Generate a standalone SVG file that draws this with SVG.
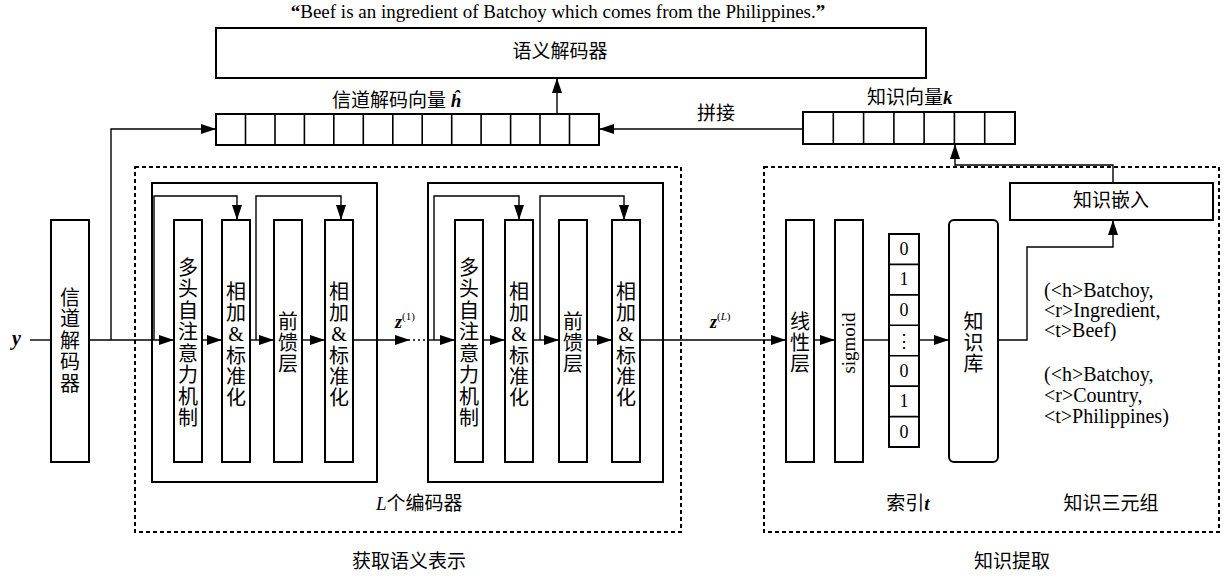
<svg xmlns="http://www.w3.org/2000/svg" width="1224" height="579" viewBox="0 0 1224 579">
<style>
.box{fill:#fff;stroke:#000;stroke-width:2}
.ln{fill:none;stroke:#000;stroke-width:1.4}
.dash{fill:none;stroke:#000;stroke-width:2;stroke-dasharray:4 3}
.cell{fill:none;stroke:#000;stroke-width:1.6}
.t{font-family:"Liberation Serif","Noto Sans CJK SC",serif;font-size:19px;fill:#000}
.v{font-family:"Liberation Serif","Noto Sans CJK SC",serif;font-size:20px;fill:#000;text-anchor:middle}
.s{font-family:"Liberation Serif","DejaVu Serif",serif;fill:#000}
.bi{font-weight:bold;font-style:italic}
</style>
<defs>
<marker id="ah" viewBox="0 0 15 10" refX="15" refY="5" markerWidth="15" markerHeight="10" markerUnits="userSpaceOnUse" orient="auto"><path d="M0,0 L15,5 L0,10 z" fill="#000"/></marker>
</defs>
<rect width="1224" height="579" fill="#fff"/>

<text class="s" x="558" y="18" font-size="19" text-anchor="middle"><tspan font-weight="bold">“</tspan>Beef is an ingredient of Batchoy which comes from the Philippines.<tspan font-weight="bold">”</tspan></text>

<g id="semantic-decoder">
<rect class="box" x="216" y="28" width="710" height="50"/>
<text class="t" x="560" y="58" text-anchor="middle">语义解码器</text>
</g>

<g id="channel-vector">
<rect class="box" x="216" y="114" width="383" height="31"/>
<path class="cell" d="M245.5,114V145M275,114V145M304.4,114V145M333.8,114V145M363.3,114V145M392.8,114V145M422.2,114V145M451.7,114V145M481.1,114V145M510.6,114V145M540,114V145M569.5,114V145"/>
<text class="t" x="332" y="107">信道解码向量 <tspan class="bi" font-family="Liberation Serif">ĥ</tspan></text>
</g>

<g id="knowledge-vector">
<rect class="box" x="803" y="112" width="212" height="32"/>
<path class="cell" d="M833.3,112V144M863.6,112V144M893.9,112V144M924.1,112V144M954.4,112V144M984.7,112V144"/>
<text class="t" x="867" y="104">知识向量<tspan class="bi" font-family="Liberation Serif">k</tspan></text>
</g>
<text class="t" x="697" y="120">拼接</text>

<g id="regions">
<rect class="dash" x="135" y="167" width="546" height="365"/>
<rect class="dash" x="764" y="167" width="455" height="365"/>
</g>

<g id="channel-decoder">
<rect class="box" x="51" y="220" width="38" height="242"/>
<text class="v" x="70"><tspan x="70" y="304.5">信</tspan><tspan x="70" y="326">道</tspan><tspan x="70" y="347.5">解</tspan><tspan x="70" y="369">码</tspan><tspan x="70" y="390.5">器</tspan></text>
</g>
<text class="s bi" x="12" y="345" font-size="20">y</text>

<g id="encoder-1">
<rect class="box" x="152" y="183" width="225" height="299"/>
<rect class="box" x="174" y="220" width="28" height="242"/>
<rect class="box" x="222" y="220" width="28" height="242"/>
<rect class="box" x="274" y="220" width="28" height="242"/>
<rect class="box" x="325" y="220" width="28" height="242"/>
<text class="v"><tspan x="188" y="274.5">多</tspan><tspan x="188" y="296">头</tspan><tspan x="188" y="317.5">自</tspan><tspan x="188" y="339">注</tspan><tspan x="188" y="360.5">意</tspan><tspan x="188" y="382">力</tspan><tspan x="188" y="403.5">机</tspan><tspan x="188" y="425">制</tspan></text>
<text class="v"><tspan x="236" y="298.5">相</tspan><tspan x="236" y="320">加</tspan><tspan x="236" y="341">&amp;</tspan><tspan x="236" y="362.5">标</tspan><tspan x="236" y="384">准</tspan><tspan x="236" y="405">化</tspan></text>
<text class="v"><tspan x="288" y="328.5">前</tspan><tspan x="288" y="349.5">馈</tspan><tspan x="288" y="370.5">层</tspan></text>
<text class="v"><tspan x="339" y="298.5">相</tspan><tspan x="339" y="320">加</tspan><tspan x="339" y="341">&amp;</tspan><tspan x="339" y="362.5">标</tspan><tspan x="339" y="384">准</tspan><tspan x="339" y="405">化</tspan></text>
</g>

<g id="encoder-L">
<rect class="box" x="428" y="183" width="235" height="299"/>
<rect class="box" x="455" y="220" width="28" height="242"/>
<rect class="box" x="505" y="220" width="28" height="242"/>
<rect class="box" x="559" y="220" width="28" height="242"/>
<rect class="box" x="612" y="220" width="28" height="242"/>
<text class="v"><tspan x="469" y="274.5">多</tspan><tspan x="469" y="296">头</tspan><tspan x="469" y="317.5">自</tspan><tspan x="469" y="339">注</tspan><tspan x="469" y="360.5">意</tspan><tspan x="469" y="382">力</tspan><tspan x="469" y="403.5">机</tspan><tspan x="469" y="425">制</tspan></text>
<text class="v"><tspan x="519" y="298.5">相</tspan><tspan x="519" y="320">加</tspan><tspan x="519" y="341">&amp;</tspan><tspan x="519" y="362.5">标</tspan><tspan x="519" y="384">准</tspan><tspan x="519" y="405">化</tspan></text>
<text class="v"><tspan x="573" y="328.5">前</tspan><tspan x="573" y="349.5">馈</tspan><tspan x="573" y="370.5">层</tspan></text>
<text class="v"><tspan x="626" y="298.5">相</tspan><tspan x="626" y="320">加</tspan><tspan x="626" y="341">&amp;</tspan><tspan x="626" y="362.5">标</tspan><tspan x="626" y="384">准</tspan><tspan x="626" y="405">化</tspan></text>
</g>
<text class="t" x="376" y="510"><tspan font-style="italic" font-family="Liberation Serif">L</tspan>个编码器</text>

<text class="s" x="395" y="328" font-size="18"><tspan class="bi">z</tspan><tspan font-size="11" dy="-8">(1)</tspan></text>
<text class="s" x="710" y="328" font-size="18"><tspan class="bi">z</tspan><tspan font-size="11" dy="-8">(</tspan><tspan font-size="11" font-style="italic">L</tspan><tspan font-size="11">)</tspan></text>

<g id="linear">
<rect class="box" x="786" y="220" width="28" height="242"/>
<text class="v"><tspan x="800" y="328.5">线</tspan><tspan x="800" y="349.5">性</tspan><tspan x="800" y="370.5">层</tspan></text>
</g>
<g id="sigmoid">
<rect class="box" x="835" y="220" width="28" height="242"/>
<text class="s" font-size="19" text-anchor="middle" transform="translate(855,343) rotate(-90)">sigmoid</text>
</g>
<g id="index">
<rect class="box" x="889" y="234" width="30" height="213"/>
<path class="cell" d="M889,264.4H919M889,294.9H919M889,325.3H919M889,355.7H919M889,386.1H919M889,416.6H919"/>
<g class="s" font-size="18" text-anchor="middle">
<text x="904" y="255">0</text><text x="904" y="285.4">1</text><text x="904" y="315.9">0</text><text x="904" y="347">⋮</text><text x="904" y="376.7">0</text><text x="904" y="407.1">1</text><text x="904" y="437.6">0</text>
</g>
</g>
<text class="t" x="908" y="510" text-anchor="middle">索引<tspan class="bi" font-family="Liberation Serif">t</tspan></text>
<g id="kb">
<rect class="box" x="949" y="220" width="49" height="242" rx="5"/>
<text class="v"><tspan x="973.5" y="328.5">知</tspan><tspan x="973.5" y="349.5">识</tspan><tspan x="973.5" y="370.5">库</tspan></text>
</g>
<g id="triples" class="s" font-size="20">
<text x="1044" y="297">(&lt;h&gt;Batchoy,</text>
<text x="1044" y="317">&lt;r&gt;Ingredient,</text>
<text x="1044" y="337">&lt;t&gt;Beef)</text>
<text x="1044" y="381">(&lt;h&gt;Batchoy,</text>
<text x="1044" y="402">&lt;r&gt;Country,</text>
<text x="1044" y="423">&lt;t&gt;Philippines)</text>
</g>
<text class="t" x="1111" y="510" text-anchor="middle">知识三元组</text>
<g id="embed">
<rect class="box" x="1010" y="183" width="203" height="37"/>
<text class="t" x="1111" y="207" text-anchor="middle">知识嵌入</text>
</g>

<text class="t" x="409" y="568" text-anchor="middle" font-size="20">获取语义表示</text>
<text class="t" x="1012" y="568" text-anchor="middle" font-size="20">知识提取</text>

<g id="connectors">
<path class="ln" d="M30,340H51"/>
<path class="ln" d="M89,340H174" marker-end="url(#ah)"/>
<path class="ln" d="M111,340V129H216" marker-end="url(#ah)"/>
<path class="ln" d="M557,114V78" marker-end="url(#ah)"/>
<path class="ln" d="M803,129H599" marker-end="url(#ah)"/>
<path class="ln" d="M154,340V196H237V220" marker-end="url(#ah)"/>
<path class="ln" d="M256,340V196H341V220" marker-end="url(#ah)"/>
<path class="ln" d="M202,340H222" marker-end="url(#ah)"/>
<path class="ln" d="M250,340H274" marker-end="url(#ah)"/>
<path class="ln" d="M302,340H325" marker-end="url(#ah)"/>
<path class="ln" d="M353,340H410" marker-end="url(#ah)"/>
<path class="ln" d="M413,340H428" stroke-width="2" stroke-dasharray="2 3"/>
<path class="ln" d="M428,340H455" marker-end="url(#ah)"/>
<path class="ln" d="M434,340V196H519V220" marker-end="url(#ah)"/>
<path class="ln" d="M540,340V196H624V220" marker-end="url(#ah)"/>
<path class="ln" d="M483,340H505" marker-end="url(#ah)"/>
<path class="ln" d="M533,340H559" marker-end="url(#ah)"/>
<path class="ln" d="M587,340H612" marker-end="url(#ah)"/>
<path class="ln" d="M640,340H786" marker-end="url(#ah)"/>
<path class="ln" d="M814,340H835" marker-end="url(#ah)"/>
<path class="ln" d="M863,340H889"/>
<path class="ln" d="M919,340H949" marker-end="url(#ah)"/>
<path class="ln" d="M998,340H1027V247H1113V220" marker-end="url(#ah)"/>
<path class="ln" d="M1113,183V165H955V144" marker-end="url(#ah)"/>
</g>
</svg>
